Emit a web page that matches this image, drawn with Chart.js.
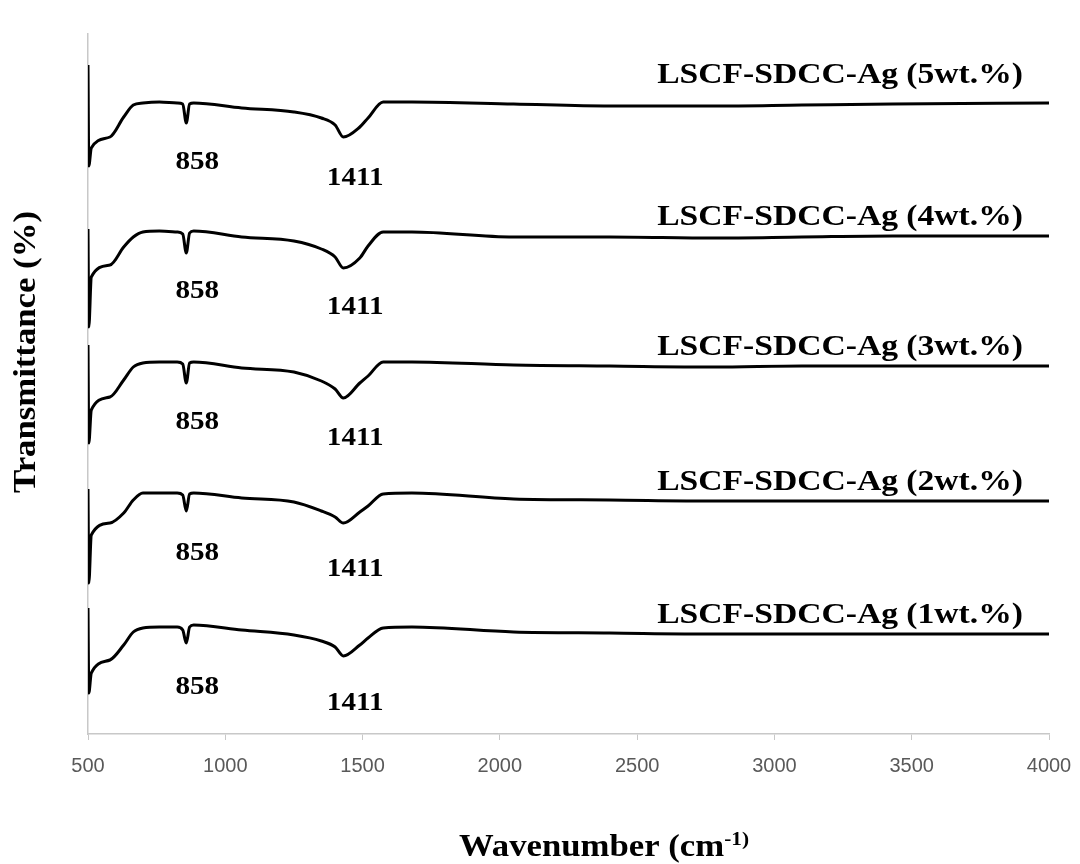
<!DOCTYPE html>
<html>
<head>
<meta charset="utf-8">
<script src="https://cdn.jsdelivr.net/npm/chart.js@4"></script>
<style>
  body { margin: 0; background: #fff; }
</style>
</head>
<body>
<canvas id="chart" width="1080" height="864"></canvas>
<script>
// wavenumber grid (cm-1) shared by all spectra
const wavenumber = [500, 503, 512, 580, 630, 665, 700, 760, 825, 845, 858, 870, 885, 1060, 1250, 1350, 1400, 1430, 1490, 1520, 1575, 1680, 2050, 2400, 2780, 3100, 3430, 4000];

// stacked transmittance traces (arbitrary offset units)
const ag5 = [669, 568, 586, 597, 617, 629, 631, 632, 631, 630, 611, 630, 631, 626, 622, 616, 609, 597, 607, 616, 632, 632, 630, 628, 628, 629, 630, 631];
const ag4 = [505, 407, 457, 469, 487, 497, 502, 503, 502, 500, 481, 501, 503, 497, 493, 485, 477, 466, 476, 488, 502, 502, 497, 497, 496, 497, 498, 498];
const ag3 = [389, 291, 324, 337, 354, 367, 371, 372, 372, 370, 351, 371, 372, 366, 362, 353, 345, 336, 351, 358, 372, 372, 369, 368, 367, 368, 368, 368];
const ag2 = [245, 151, 199, 211, 221, 234, 241, 241, 241, 239, 223, 240, 241, 236, 232, 223, 217, 211, 222, 228, 240, 241, 235, 234, 233, 233, 233, 233];
const ag1 = [126, 41, 61, 74, 89, 102, 106, 107, 107, 104, 91, 107, 109, 104, 99, 93, 87, 78, 89, 96, 106, 107, 102, 101, 100, 100, 100, 100];

const seriesNames = ['LSCF-SDCC-Ag (5wt.%)', 'LSCF-SDCC-Ag (4wt.%)', 'LSCF-SDCC-Ag (3wt.%)', 'LSCF-SDCC-Ag (2wt.%)', 'LSCF-SDCC-Ag (1wt.%)'];
const seriesValues = [ag5, ag4, ag3, ag2, ag1];

const peakLabels = ['858', '1411'];
const peakPositions = [858, 1411];

const xTicks = [500, 1000, 1500, 2000, 2500, 3000, 3500, 4000];

const serif = '"Liberation Serif", "Times New Roman", serif';
const stretch = 1.12;

function drawText(ctx, text, px, py, size, align, baseline) {
    ctx.save();
    ctx.translate(px, py);
    ctx.scale(stretch, 1);
    ctx.font = 'bold ' + size + 'px ' + serif;
    ctx.textAlign = align;
    ctx.textBaseline = baseline || 'alphabetic';
    ctx.fillText(text, 0, 0);
    ctx.restore();
}

// names, peak marks and axis titles
const labelsPlugin = {
    id: 'spectraLabels',
    afterDatasetsDraw(chart) {
        const { ctx, chartArea } = chart;
        const x = chart.scales.x;
        const y = chart.scales.y;
        ctx.save();
        ctx.fillStyle = '#000';

        seriesValues.forEach((vals, i) => {
            const endY = y.getPixelForValue(vals[vals.length - 1]);
            drawText(ctx, seriesNames[i], chartArea.right - 26, endY - (i === 0 ? 20 : 11), 30, 'right');

            const plateau = y.getPixelForValue(vals[7]);
            drawText(ctx, peakLabels[0], x.getPixelForValue(peakPositions[0]) + 11, plateau + 60, 26, 'center', 'middle');
            drawText(ctx, peakLabels[1], x.getPixelForValue(peakPositions[1]) + 17, plateau + 76, 26, 'center', 'middle');
        });

        // y title
        ctx.save();
        ctx.translate(27, 352);
        ctx.rotate(-Math.PI / 2);
        ctx.scale(stretch, 1);
        ctx.font = 'bold 31px ' + serif;
        ctx.textAlign = 'center';
        ctx.textBaseline = 'middle';
        ctx.fillText('Transmittance (%)', 0, 0);
        ctx.restore();

        // x title with superscript
        const main = 'Wavenumber (cm';
        const sup = '-1)';
        ctx.font = 'bold 31px ' + serif;
        const w1 = ctx.measureText(main).width * stretch;
        ctx.font = 'bold 19px ' + serif;
        const w2 = ctx.measureText(sup).width * stretch;
        const startX = 604 - (w1 + w2) / 2;
        drawText(ctx, main, startX, 856, 31, 'left');
        drawText(ctx, sup, startX + w1, 845, 19, 'left');

        ctx.restore();
    }
};

const ctx = document.getElementById('chart').getContext('2d');
new Chart(ctx, {
    type: 'line',
    data: {
        datasets: seriesValues.map((vals, i) => ({
            label: seriesNames[i],
            data: wavenumber.map((w, j) => ({ x: w, y: vals[j] })),
            borderColor: '#000',
            borderWidth: 3,
            pointRadius: 0,
            fill: false,
            cubicInterpolationMode: 'monotone',
        })),
    },
    options: {
        responsive: false,
        animation: false,
        layout: {
            padding: { left: 88, right: 31, top: 34, bottom: 0 },
        },
        plugins: {
            legend: { display: false },
            tooltip: { enabled: false },
        },
        scales: {
            x: {
                type: 'linear',
                min: 500,
                max: 4000,
                afterBuildTicks: (scale) => {
                    scale.ticks = xTicks.map(v => ({ value: v }));
                },
                afterFit: (scale) => {
                    scale.height = 130;
                    scale.paddingLeft = 0;
                    scale.paddingRight = 0;
                },
                border: { color: '#c8c8c8', width: 1.5 },
                grid: {
                    drawOnChartArea: false,
                    drawTicks: true,
                    tickLength: 6,
                    color: '#c8c8c8',
                },
                ticks: {
                    color: '#595959',
                    padding: 14,
                    maxRotation: 0,
                    callback: (v) => String(v),
                    font: { family: '"Liberation Sans", Arial, sans-serif', size: 20 },
                },
            },
            y: {
                min: 0,
                max: 700,
                afterFit: (scale) => { scale.width = 0; },
                border: { color: '#c8c8c8', width: 1.5 },
                grid: { display: false },
                ticks: { display: false },
            },
        },
    },
    plugins: [labelsPlugin],
});
</script>
</body>
</html>
